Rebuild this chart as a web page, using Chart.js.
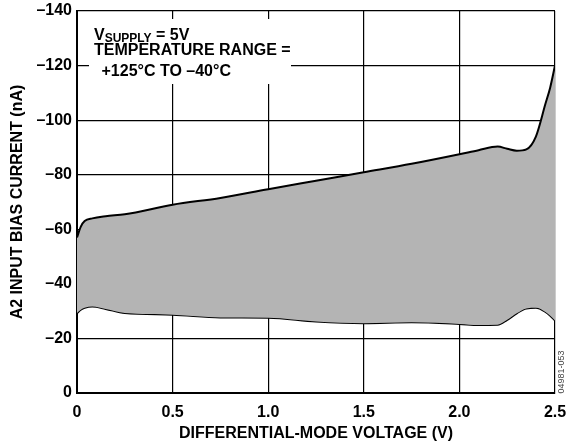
<!DOCTYPE html>
<html lang="en">
<head>
    <meta charset="UTF-8">
    <title>A2 Input Bias Current vs Differential-Mode Voltage</title>
    <script src="https://cdn.jsdelivr.net/npm/chart.js"></script>
    <style>
        body { margin: 0; background: #fff; }
        canvas { display: block; }
    </style>
</head>
<body>
    <canvas id="biasChart" width="568" height="444"></canvas>

    <script>
        // Differential-mode voltage (V), shared by both curves
        const voltage = [0, 0.02, 0.04, 0.08, 0.15, 0.25, 0.5, 0.75, 1.0, 1.25, 1.5, 1.75, 2.0, 2.1, 2.2, 2.25, 2.3, 2.35, 2.4, 2.45, 2.475, 2.5];

        // Upper edge of the band (nA)
        const upperCurrent = [-57, -61, -63, -64, -64.8, -65.5, -69, -71.5, -74.7, -77.8, -80.9, -84, -87.5, -89, -90.3, -89.5, -88.8, -89.3, -94, -106, -112, -120];

        // Lower edge of the band (nA)
        const lowerCurrent = [-29.3, -30.5, -31.2, -31.7, -30.8, -29.3, -28.7, -27.7, -27.6, -26.2, -25.6, -25.9, -25.3, -24.9, -25, -26.8, -29.2, -31, -31.2, -29.7, -28.3, -26.6];

        const yTicks = [-140, -120, -100, -80, -60, -40, -20, 0];

        const FONT = "'Liberation Sans', Arial, sans-serif";

        const toPoints = (ys) => ys.map((y, i) => ({ x: voltage[i], y: y }));

        // white box with the test conditions, plus the figure number
        const notes = {
            id: 'notes',
            afterDraw(chart) {
                const c = chart.ctx;
                c.save();
                c.fillStyle = '#fff';
                c.fillRect(89, 19, 202, 65);

                c.fillStyle = '#000';
                c.textBaseline = 'alphabetic';
                c.font = 'bold 16px ' + FONT;
                let x = 94;
                c.fillText('V', x, 39.5);
                x += c.measureText('V').width;
                c.font = 'bold 12px ' + FONT;
                c.fillText('SUPPLY', x, 42.3);
                x += c.measureText('SUPPLY').width;
                c.font = 'bold 16px ' + FONT;
                c.fillText(' = 5V', x, 39.5);
                c.fillText('TEMPERATURE RANGE =', 94, 55);
                c.fillText('+125\u00B0C TO \u201340\u00B0C', 101.5, 76);

                c.translate(562, 372);
                c.rotate(-Math.PI / 2);
                c.font = '9px ' + FONT;
                c.fillStyle = '#444';
                c.textAlign = 'center';
                c.textBaseline = 'middle';
                c.fillText('04981-053', 0, 0);
                c.restore();
            }
        };

        new Chart(document.getElementById('biasChart'), {
            type: 'line',
            data: {
                datasets: [{
                    label: 'upper',
                    data: toPoints(upperCurrent),
                    borderColor: '#000',
                    borderWidth: 2,
                    backgroundColor: '#b4b4b4',
                    fill: '+1',
                    pointRadius: 0,
                    cubicInterpolationMode: 'monotone'
                }, {
                    label: 'lower',
                    data: toPoints(lowerCurrent),
                    borderColor: '#000',
                    borderWidth: 2,
                    fill: false,
                    pointRadius: 0,
                    cubicInterpolationMode: 'monotone'
                }]
            },
            options: {
                responsive: false,
                animation: false,
                layout: { padding: { top: 11, right: 13, left: 0, bottom: 0 } },
                plugins: {
                    legend: { display: false },
                    tooltip: { enabled: false }
                },
                scales: {
                    x: {
                        type: 'linear',
                        min: 0,
                        max: 2.5,
                        afterFit: (s) => {
                            s.height = 51;
                            s.paddingLeft = 0;
                            s.paddingRight = 0;
                        },
                        grid: { color: '#000', lineWidth: 1.2, drawTicks: false },
                        border: { color: '#000', width: 2 },
                        ticks: {
                            stepSize: 0.5,
                            padding: 10,
                            color: '#000',
                            font: { family: FONT, size: 16, weight: 'bold' },
                            callback: (v) => v === 0 ? '0' : v.toFixed(1)
                        },
                        title: {
                            display: true,
                            text: 'DIFFERENTIAL-MODE VOLTAGE (V)',
                            color: '#000',
                            font: { family: FONT, size: 16, weight: 'bold' },
                            padding: { top: 0, bottom: 1 }
                        }
                    },
                    y: {
                        min: -140,
                        max: 0,
                        reverse: true,
                        afterFit: (s) => {
                            s.width = 77;
                            s.paddingTop = 0;
                            s.paddingBottom = 0;
                        },
                        afterBuildTicks: (s) => { s.ticks = yTicks.map(v => ({ value: v })); },
                        grid: { color: '#000', lineWidth: 1.2, drawTicks: false },
                        border: { color: '#000', width: 2 },
                        ticks: {
                            padding: 5,
                            color: '#000',
                            font: { family: FONT, size: 16, weight: 'bold' },
                            callback: (v) => v === 0 ? '0' : '\u2013' + Math.abs(v)
                        },
                        title: {
                            display: true,
                            text: 'A2 INPUT BIAS CURRENT (nA)',
                            color: '#000',
                            font: { family: FONT, size: 16, weight: 'bold' },
                            padding: { top: 8, bottom: 0 }
                        }
                    }
                }
            },
            plugins: [notes]
        });
    </script>
</body>
</html>
